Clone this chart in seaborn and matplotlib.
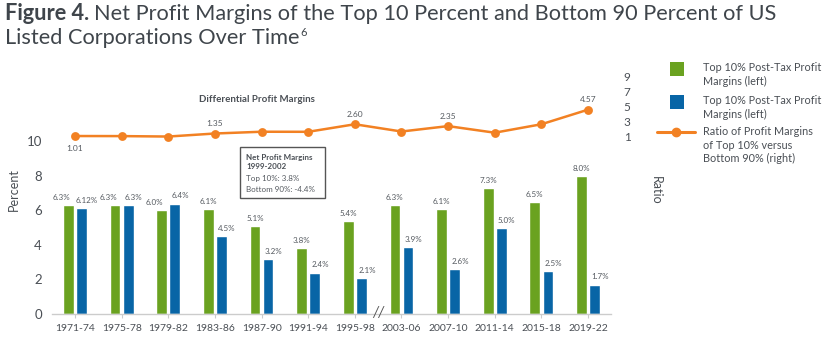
import numpy as np
import pandas as pd
import matplotlib
matplotlib.use("Agg")
import matplotlib.pyplot as plt
from matplotlib.patches import Rectangle
from matplotlib.lines import Line2D
import seaborn as sns

# ---- data ----
periods = ["1971-74", "1975-78", "1979-82", "1983-86", "1987-90", "1991-94",
           "1995-98", "2003-06", "2007-10", "2011-14", "2015-18", "2019-22"]
top10 = [6.3, 6.3, 6.0, 6.1, 5.1, 3.8, 5.4, 6.3, 6.1, 7.3, 6.5, 8.0]
bottom = [6.12, 6.3, 6.4, 4.5, 3.2, 2.4, 2.1, 3.9, 2.6, 5.0, 2.5, 1.7]
top10_labels = ["6.3%", "6.3%", "6.0%", "6.1%", "5.1%", "3.8%", "5.4%", "6.3%",
                "6.1%", "7.3%", "6.5%", "8.0%"]
bottom_labels = ["6.12%", "6.3%", "6.4%", "4.5%", "3.2%", "2.4%", "2.1%", "3.9%",
                 "2.6%", "5.0%", "2.5%", "1.7%"]
ratio = [1.01, 1.00, 0.94, 1.35, 1.59, 1.58, 2.60, 1.62, 2.35, 1.46, 2.60, 4.57]
ratio_labels = {0: "1.01", 3: "1.35", 6: "2.60", 8: "2.35", 11: "4.57"}
series_names = ["Top 10% Post-Tax Profit\nMargins (left)",
                "Top 10% Post-Tax Profit\nMargins (left)"]
left_ticks = [0, 2, 4, 6, 8, 10]
right_ticks = [1, 3, 5, 7, 9]

GREEN = "#6aa220"
BLUE = "#0865a6"
ORANGE = "#f28123"
TXT = "#4a4f55"
LIGHT = "#555a60"
TITLE = "#3f454b"

sns.set_theme(style="white")
plt.rcParams["font.family"] = ["Lato", "DejaVu Sans"]

W, H = 830, 350
fig = plt.figure(figsize=(W / 100, H / 100), dpi=100)

def fx(p):
    return p / W

def fy(p):
    return 1 - p / H

ax_l, ax_r, ax_b, ax_t = 51.7, 611.3, 314, 70
ax = fig.add_axes([fx(ax_l), fy(ax_b), fx(ax_r - ax_l), (ax_b - ax_t) / H])

df = pd.DataFrame({
    "period": periods * 2,
    "value": top10 + bottom,
    "series": ["top"] * len(periods) + ["bottom"] * len(periods),
})
sns.barplot(data=df, x="period", y="value", hue="series", order=periods,
            hue_order=["top", "bottom"], palette=[GREEN, BLUE],
            width=0.56, gap=0.18, ax=ax, legend=False, saturation=1)

ax.set_ylim(0, 14.14)
ax.set_xlim(-0.5, len(periods) - 0.5)
ax.set_yticks(left_ticks)
ax.set_yticklabels([str(t) for t in left_ticks], fontsize=9.5, color=TXT)
ax.tick_params(axis="y", length=0, pad=7)
ax.tick_params(axis="x", length=3, width=0.8, color="#cccccc", pad=4,
               labelsize=7.5, labelcolor=TXT, bottom=True)
ax.set_xlabel("")
ax.set_ylabel("")
for s in ["top", "right", "left"]:
    ax.spines[s].set_visible(False)
ax.spines["bottom"].set_color("#cccccc")
ax.spines["bottom"].set_linewidth(1.0)

# bar labels
cont_top, cont_bot = ax.containers[0], ax.containers[1]
for i, (rt, rb) in enumerate(zip(cont_top, cont_bot)):
    close = abs(top10[i] - bottom[i]) < 0.5
    dx_t = -5 if close else 0
    ax.annotate(top10_labels[i], (rt.get_x() + rt.get_width() / 2, rt.get_height()),
                xytext=(dx_t, 3), textcoords="offset points", ha="center", va="bottom",
                fontsize=5.8, color=LIGHT)
    ax.annotate(bottom_labels[i], (rb.get_x() + rb.get_width() / 2, rb.get_height()),
                xytext=(4, 3), textcoords="offset points", ha="center", va="bottom",
                fontsize=5.8, color=LIGHT)

# axis break
ax.annotate("//", (6.5, 0), xytext=(0, 1), textcoords="offset points",
            ha="center", va="center", fontsize=10.5, color="#555555", fontstyle="italic")

# ratio axis
ax2 = ax.twinx()
r_ppu = 7.4
r_bottom = 1 - (ax_b - 136.1) / r_ppu
r_top = 1 + (136.1 - ax_t) / r_ppu
sns.pointplot(x=periods, y=ratio, ax=ax2, color=ORANGE, markers="o",
              markersize=5, linewidth=1.8, order=periods)
ax2.set_ylim(r_bottom, r_top)
ax2.set_xlim(-0.5, len(periods) - 0.5)
ax2.set_yticks(right_ticks)
ax2.set_yticklabels([str(t) for t in right_ticks], fontsize=8.5, color=TXT)
ax2.tick_params(axis="y", length=0, pad=9)
ax2.set_ylabel("")
for s in ["top", "right", "left", "bottom"]:
    ax2.spines[s].set_visible(False)
ax2.grid(False)
ax.grid(False)

for i, lab in ratio_labels.items():
    dy = -9 if i == 0 else 7
    ax2.annotate(lab, (i, ratio[i]), xytext=(0, dy), textcoords="offset points",
                 ha="center", va="center", fontsize=6, color=LIGHT)

# axis titles
fig.text(fx(14), fy(190), "Percent", rotation=90, ha="center", va="center",
         fontsize=9, color=TXT)
fig.text(fx(656), fy(190), "Ratio", rotation=270, ha="center", va="center",
         fontsize=9, color=TXT)
fig.text(fx(257), fy(99), "Differential Profit Margins", ha="center", va="center",
         fontsize=7, color=TXT, fontweight="bold")

# title
t1 = fig.text(fx(5), fy(14), "Figure 4.", ha="left", va="center", fontsize=15.7,
              color=TITLE, fontweight="bold")
fig.canvas.draw()
bb = t1.get_window_extent()
fig.text((bb.x1 + 5) / W, fy(14),
         "Net Profit Margins of the Top 10 Percent and Bottom 90 Percent of US",
         ha="left", va="center", fontsize=15.7, color=TITLE)
t2 = fig.text(fx(5), fy(38), "Listed Corporations Over Time", ha="left",
              va="center", fontsize=15.7, color=TITLE)
fig.canvas.draw()
bb2 = t2.get_window_extent()
fig.text((bb2.x1 + 1) / W, fy(32), "6", ha="left", va="center", fontsize=8,
         color=TITLE)

# inset box
fig.add_artist(Rectangle((fx(240), fy(198)), fx(85), 51 / H, transform=fig.transFigure,
                         facecolor="white", edgecolor="#555555", lw=1.0))
fig.text(fx(246), fy(157), "Net Profit Margins", fontsize=5.8, fontweight="bold",
         color=TXT, va="center")
fig.text(fx(246), fy(167), "1999-2002", fontsize=5.8, fontweight="bold",
         color=TXT, va="center")
fig.text(fx(246), fy(179), "Top 10%: 3.8%", fontsize=5.8, color=LIGHT, va="center")
fig.text(fx(246), fy(189), "Bottom 90%: -4.4%", fontsize=5.8, color=LIGHT, va="center")

# legend
fig.add_artist(Rectangle((fx(670), fy(76)), fx(14), 14 / H, transform=fig.transFigure,
                         facecolor=GREEN, edgecolor="none"))
fig.add_artist(Rectangle((fx(670), fy(109)), fx(14), 14 / H, transform=fig.transFigure,
                         facecolor=BLUE, edgecolor="none"))
fig.add_artist(Line2D([fx(657), fx(695)], [fy(132), fy(132)], transform=fig.transFigure,
                      color=ORANGE, lw=2.2))
fig.add_artist(Line2D([fx(676)], [fy(132)], transform=fig.transFigure, color=ORANGE,
                      marker="o", markersize=6))
fig.text(fx(703), fy(62), series_names[0], fontsize=7.8, color=TXT, va="top",
         linespacing=1.3)
fig.text(fx(703), fy(95), series_names[1], fontsize=7.8, color=TXT, va="top",
         linespacing=1.3)
fig.text(fx(703), fy(126), "Ratio of Profit Margins\nof Top 10% versus\nBottom 90% (right)",
         fontsize=7.8, color=TXT, va="top", linespacing=1.3)

fig.savefig("out.png", dpi=100)
